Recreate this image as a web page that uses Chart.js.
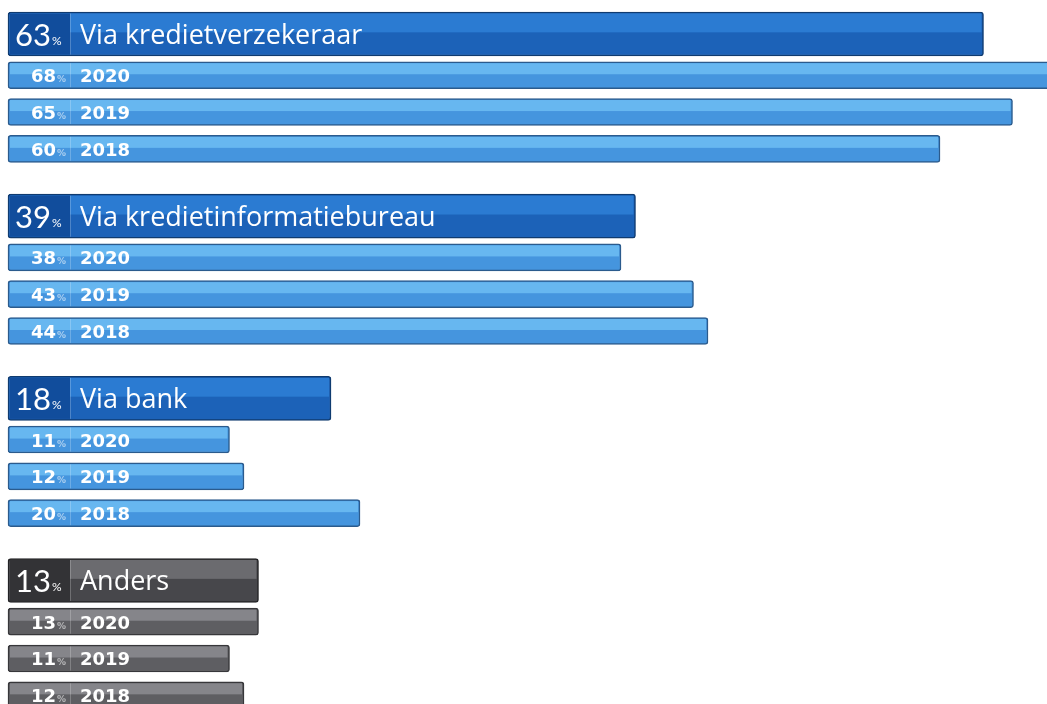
<!DOCTYPE html>
<html lang="nl">
<head>
<meta charset="utf-8">
<title>Hoe komt u aan kredietinformatie</title>
<script src="https://cdn.jsdelivr.net/npm/chart.js@4.4.1/dist/chart.umd.min.js"></script>
<style>
  html, body { margin: 0; padding: 0; background: #ffffff; }
  .chart-box { position: relative; width: 1047px; height: 704px; }
</style>
</head>
<body>
<div class="chart-box"><canvas id="sourcesChart"></canvas></div>
<script>
// ========== DATA ==========
const categories = ['Via kredietverzekeraar', 'Via kredietinformatiebureau', 'Via bank', 'Anders'];
const totals = [63, 39, 18, 13];
const years = ['2020', '2019', '2018'];
const values2020 = [68, 38, 11, 13];
const values2019 = [65, 43, 12, 11];
const values2018 = [60, 44, 20, 12];
const yearValues = [values2020, values2019, values2018];

// ========== LAYOUT (pixels) ==========
const W = 1047, H = 704;
const PX_PER_PCT = 14.5;   // bar length per percent
const ZERO_X = 70;         // where 0% sits, the label stub is left of it
const BAR_START_X = 8;
const ROW_PX = 36.8;       // distance between two year rows
const FIRST_ROW_Y = 34;
const GROUP_PITCH = 4.95;  // in rows
const SUB_OFFSET = 1.12;   // first year row under the total bar

const xMin = -ZERO_X / PX_PER_PCT;
const xMax = (W - ZERO_X) / PX_PER_PCT;
const barBase = -(ZERO_X - BAR_START_X) / PX_PER_PCT;
const yMin = -FIRST_ROW_Y / ROW_PX;
const yMax = yMin + H / ROW_PX;

// ========== COLOURS ==========
const BLUE = {
  main: '#1c62b8', mainTop: '#2b7bd2', mainStub: '#114d9c', mainBorder: '#0f3b70',
  sub: '#4595de', subTop: '#67b7f0', subBorder: '#2b5b8d'
};
const GREY = {
  main: '#47474b', mainTop: '#6b6b6f', mainStub: '#333336', mainBorder: '#232325',
  sub: '#5e5e62', subTop: '#85858a', subBorder: '#37373a'
};
const categoryTone = [BLUE, BLUE, BLUE, GREY];

// ========== DATASETS ==========
function buildDatasets() {
  const common = {
    base: barBase,
    borderWidth: 1.5,
    borderRadius: 3,
    borderSkipped: false,
    grouped: false
  };
  const sets = [{
    ...common,
    label: 'Totaal',
    kind: 'main',
    data: totals.map((v, g) => ({ x: v, y: g * GROUP_PITCH })),
    barThickness: 44,
    backgroundColor: categoryTone.map(p => p.main),
    borderColor: categoryTone.map(p => p.mainBorder)
  }];
  years.forEach((yr, k) => {
    sets.push({
      ...common,
      label: yr,
      kind: 'sub',
      data: yearValues[k].map((v, g) => ({ x: v, y: g * GROUP_PITCH + SUB_OFFSET + k })),
      barThickness: 27,
      backgroundColor: categoryTone.map(p => p.sub),
      borderColor: categoryTone.map(p => p.subBorder)
    });
  });
  return sets;
}

// ========== SHADING + LABELS ON THE BARS ==========
const barDecor = {
  id: 'barDecor',
  afterDatasetsDraw(chart) {
    const ctx = chart.ctx;
    const area = chart.chartArea;
    const zeroPx = chart.scales.x.getPixelForValue(0);

    ctx.save();
    ctx.beginPath();
    ctx.rect(area.left, area.top, area.right - area.left, area.bottom - area.top);
    ctx.clip();

    chart.data.datasets.forEach((ds, di) => {
      const meta = chart.getDatasetMeta(di);
      meta.data.forEach((bar, g) => {
        const { x, y, base, height } = bar.getProps(['x', 'y', 'base', 'height'], true);
        const pal = categoryTone[g];
        const isMain = ds.kind === 'main';
        const left = base + 2, right = x - 2;
        const top = y - height / 2 + 1.5, bottom = y + height / 2 - 1.5;

        // lighter upper half
        ctx.fillStyle = isMain ? pal.mainTop : pal.subTop;
        ctx.fillRect(left, top, right - left, (bottom - top) * 0.46);

        // darker stub with the numbers, plus a thin divider
        if (isMain) {
          ctx.fillStyle = pal.mainStub;
          ctx.fillRect(left, top, zeroPx - left, bottom - top);
        }
        ctx.fillStyle = 'rgba(255,255,255,0.22)';
        ctx.fillRect(zeroPx, top, 1, bottom - top);

        // texts
        ctx.fillStyle = '#ffffff';
        ctx.textBaseline = 'alphabetic';
        ctx.letterSpacing = '0px';
        if (isMain) {
          const num = String(totals[g]);
          ctx.textAlign = 'left';
          ctx.font = '31px Lato';
          ctx.fillText(num, base + 7, y + 12);
          const nw = ctx.measureText(num).width;
          ctx.font = '12px Lato';
          ctx.fillText('%', base + 8 + nw, y + 11);
          ctx.font = '27px "Open Sans"';
          ctx.fillText(categories[g], zeroPx + 10, y + 10);
        } else {
          const k = di - 1;
          ctx.font = 'bold 18px "DejaVu Sans"';
          ctx.textAlign = 'right';
          ctx.fillText(String(yearValues[k][g]), zeroPx - 14, y + 7);
          ctx.textAlign = 'left';
          ctx.font = 'bold 9px "DejaVu Sans"';
          ctx.globalAlpha = 0.55;
          ctx.fillText('%', zeroPx - 13, y + 7);
          ctx.globalAlpha = 1;
          ctx.font = 'bold 18px "DejaVu Sans"';
          ctx.fillText(years[k], zeroPx + 10, y + 7);
        }
      });
    });
    ctx.restore();
  }
};

// ========== CHART ==========
function initChart() {
  const canvas = document.getElementById('sourcesChart');
  new Chart(canvas, {
    type: 'bar',
    data: { datasets: buildDatasets() },
    options: {
      indexAxis: 'y',
      responsive: true,
      maintainAspectRatio: false,
      animation: false,
      layout: { padding: 0 },
      plugins: {
        legend: { display: false },
        tooltip: { enabled: false }
      },
      scales: {
        x: { type: 'linear', min: xMin, max: xMax, display: false },
        y: { type: 'linear', min: yMin, max: yMax, reverse: true, offset: false, display: false }
      }
    },
    plugins: [barDecor]
  });
}

document.addEventListener('DOMContentLoaded', initChart);
</script>
</body>
</html>
